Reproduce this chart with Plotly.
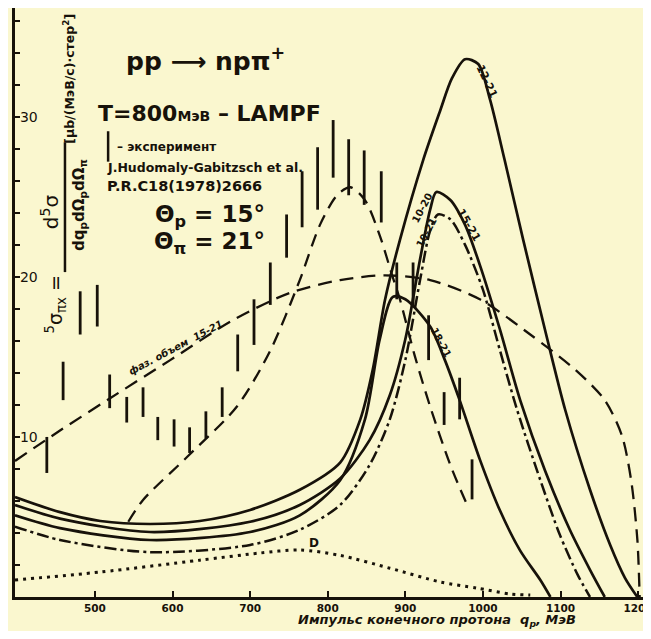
import plotly.graph_objects as go

# ---- data (momentum of final proton, MeV ; cross-section) ----
c12_x = [397, 455, 507, 571, 635, 700, 764, 816, 842, 858, 874, 893, 923, 945, 960, 977, 994, 1009, 1028, 1052, 1080, 1106, 1138, 1164, 1183, 1199]
c12_y = [6.25, 5.3, 4.75, 4.56, 4.75, 5.44, 6.7, 8.4, 11.1, 14.2, 18.6, 22.3, 27.3, 30.4, 32.4, 33.6, 33.3, 31.1, 27.3, 22.3, 16.7, 11.7, 6.7, 3.25, 1.2, 0]

c15_x = [397, 455, 571, 700, 764, 816, 854, 880, 900, 919, 932, 940, 958, 977, 996, 1022, 1048, 1080, 1112, 1138, 1157]
c15_y = [5.75, 4.9, 4.06, 4.7, 5.75, 7.4, 9.8, 12.6, 16.1, 21.1, 24.2, 25.3, 24.8, 23.25, 20.75, 16.7, 12.3, 7.9, 4.2, 1.7, 0]

cdd_x = [397, 455, 571, 700, 764, 816, 854, 880, 900, 919, 932, 942, 958, 977, 1000, 1022, 1044, 1074, 1099, 1122, 1138]
cdd_y = [4.4, 3.56, 2.8, 3.25, 4.2, 5.75, 8.25, 11.1, 14.8, 19.8, 22.9, 23.9, 23.6, 22.0, 19.2, 15.4, 11.7, 7.3, 3.9, 1.4, 0]

c18_x = [397, 455, 571, 700, 764, 816, 848, 867, 884, 900, 932, 951, 970, 996, 1022, 1048, 1074, 1087]
c18_y = [5.1, 4.3, 3.56, 4.06, 5.1, 7.3, 11.1, 16.1, 18.75, 18.6, 16.9, 14.8, 12.3, 8.6, 5.4, 2.9, 1.06, 0]

dash_x = [543, 562, 622, 683, 726, 764, 790, 812, 829, 848, 867, 883, 893, 912, 932, 958, 981]
dash_y = [4.7, 6.06, 8.9, 11.9, 15.4, 19.8, 23.25, 25.1, 25.6, 24.8, 22.6, 20.1, 18.6, 15.1, 11.9, 8.25, 5.6]

phase_x = [397, 455, 519, 597, 678, 751, 816, 874, 932, 996, 1061, 1119, 1157, 1179, 1191, 1199, 1202]
phase_y = [8.5, 10.4, 12.4, 14.8, 17.3, 19.0, 19.8, 20.1, 19.8, 18.6, 16.4, 14.2, 12.3, 10.1, 7.3, 3.6, 0]

d_x = [397, 507, 635, 713, 764, 816, 880, 945, 992, 1035, 1061]
d_y = [1.06, 1.56, 2.3, 2.75, 2.94, 2.6, 1.8, 0.94, 0.56, 0.19, 0.12]

# experiment (Hudomalj-Gabitzsch et al.) : bar position, lower and upper value
bar_x  = [438, 459, 481, 503, 519, 541, 562, 581, 602, 622, 643, 664, 684, 705, 726, 747, 767, 787, 807, 827, 847, 869, 889, 910, 930, 950, 970, 986]
bar_lo = [7.75, 12.3, 16.4, 16.9, 11.8, 10.9, 11.25, 9.8, 9.4, 9.0, 9.9, 11.25, 14.1, 15.75, 18.25, 21.2, 23.1, 24.2, 26.2, 25.1, 24.5, 23.4, 18.6, 18.1, 14.8, 10.75, 11.1, 6.1]
bar_hi = [10.0, 14.7, 19.1, 19.5, 13.9, 12.5, 13.1, 11.25, 11.1, 10.6, 11.6, 13.1, 16.4, 18.6, 20.9, 23.9, 26.6, 28.1, 29.8, 28.6, 27.9, 26.6, 20.9, 20.9, 17.6, 12.8, 13.7, 8.6]

x_tickvals = [397, 500, 600, 700, 800, 900, 1000, 1100, 1200]
x_ticktext = ["0", "500", "600", "700", "800", "900", "1000", "1100", "1200"]
y_tickvals = list(range(2, 37, 2))
y_ticktext = [str(v) if v in (10, 20, 30) else "" for v in y_tickvals]

INK = "#17120a"
BG = "#faf7cf"
FONT = "DejaVu Sans"

fig = go.Figure()

def curve(x, y, dash, width=2.7):
    fig.add_trace(go.Scatter(x=x, y=y, mode="lines", line=dict(color=INK, width=width, dash=dash, shape="spline", smoothing=0.8), hoverinfo="skip", showlegend=False))

curve(c12_x, c12_y, "solid")
curve(c15_x, c15_y, "solid")
curve(c18_x, c18_y, "solid")
curve(cdd_x, cdd_y, "12px,4px,3px,4px", 2.5)
curve(dash_x, dash_y, "13px,8px", 2.3)
curve(phase_x, phase_y, "14px,8px", 2.3)
curve(d_x, d_y, "3px,5px", 3)

# experimental bars
bx, by = [], []
for x, lo, hi in zip(bar_x, bar_lo, bar_hi):
    bx += [x, x, None]
    by += [lo, hi, None]
fig.add_trace(go.Scatter(x=bx, y=by, mode="lines", line=dict(color=INK, width=2.8), hoverinfo="skip", showlegend=False))

def ann(x, y, text, size, angle=0, xanchor="center", italic=False, bold=True, xref="x", yref="y"):
    fig.add_annotation(x=x, y=y, xref=xref, yref=yref, text=text, showarrow=False, textangle=angle,
                       xanchor=xanchor, yanchor="middle",
                       font=dict(family=FONT, size=size, color=INK, weight="bold" if bold else "normal",
                                 style="italic" if italic else "normal"))

ann(642, 33.6, "pp ⟶ npπ<sup>+</sup>", 25)
ann(648, 30.2, "T=800<span style='font-size:14px'>МэВ</span> – LAMPF", 22)
ann(526, 28.1, "– эксперимент", 12, xanchor="left")
ann(513, 26.85, "J.Hudomaly-Gabitzsch et al.", 12.5, xanchor="left")
ann(513, 25.65, "P.R.C18(1978)2666", 14.5, xanchor="left")
ann(648, 23.8, "Θ<sub>p</sub> = 15°", 23)
ann(648, 22.1, "Θ<sub>π</sub> = 21°", 23)

# y-axis quantity written vertically
ann(467, 32.4, "[μb/(МэВ/c)·стер<sup>2</sup>]", 12.5, angle=-90)
ann(442, 24.1, "d<sup>5</sup>σ", 20, angle=-90, bold=False)
ann(481, 24.5, "dq<sub>p</sub>dΩ<sub>p</sub>dΩ<sub>π</sub>", 15, angle=-90)
ann(449, 18.3, "<sup>5</sup>σ<sub>πx</sub> =", 19, angle=-90, bold=False)
fig.add_shape(type="line", x0=461.4, x1=461.4, y0=20.3, y1=28.4, line=dict(color=INK, width=2.5))
fig.add_shape(type="line", x0=517, x1=517, y0=27.2, y1=29.1, line=dict(color=INK, width=2.5))

# curve labels
ann(1005, 32.2, "12-21", 11, angle=65)
ann(981, 23.25, "15-21", 11, angle=60)
ann(921, 24.3, "10-20", 10, angle=-62)
ann(927, 22.8, "10-21", 10, angle=-62)
ann(946, 15.9, "18-21", 10, angle=62)
ann(604, 15.6, "фаз. объем  15-21", 10, angle=-28, italic=True)
ann(782, 3.4, "D", 12)

fig.add_annotation(x=0.672, y=-0.0575, xref="paper", yref="paper", text="Импульс конечного протона  q<sub>p</sub>, МэВ",
                   showarrow=False, xanchor="center", yanchor="bottom",
                   font=dict(family=FONT, size=13, color=INK, weight="bold", style="italic"))

fig.update_layout(
    width=635, height=623,
    margin=dict(l=7, r=0, t=0, b=34, autoexpand=False),
    paper_bgcolor=BG, plot_bgcolor=BG,
    showlegend=False,
    xaxis=dict(range=[397, 1206.3], tickvals=x_tickvals, ticktext=x_ticktext, showgrid=False, zeroline=False,
               showline=True, linecolor=INK, linewidth=2.5, ticks="inside", ticklen=6, tickwidth=2, tickcolor=INK,
               ticklabeloverflow="allow", automargin=False, ticklabelstandoff=0,
               tickfont=dict(family=FONT, size=10.5, color=INK, weight="bold")),
    yaxis=dict(range=[0, 36.8], tickvals=y_tickvals, ticktext=y_ticktext, showgrid=False, zeroline=False,
               showline=True, linecolor=INK, linewidth=2.5, ticks="inside", ticklen=5, tickwidth=2, tickcolor=INK,
               ticklabelposition="inside", automargin=False, tickfont=dict(family=FONT, size=14, color=INK)),
)

fig.write_html("out.html")
